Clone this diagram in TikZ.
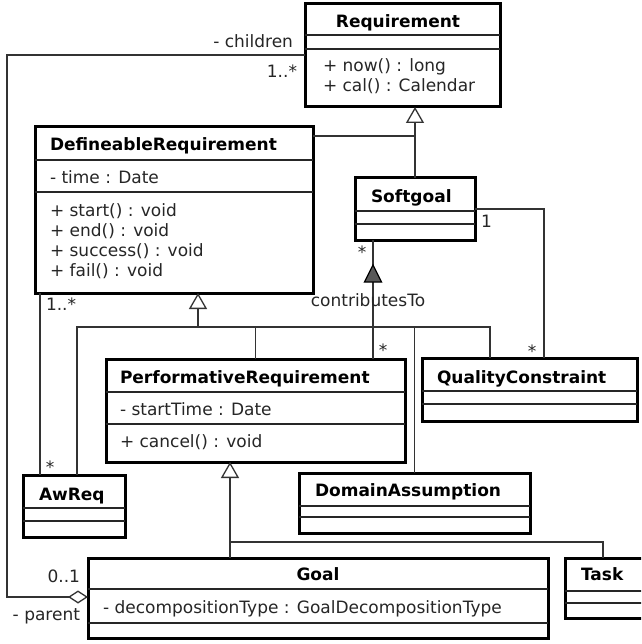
\documentclass[tikz,border=0pt]{standalone}
\usepackage{fontspec}
\setmainfont{DejaVu Sans}
\usetikzlibrary{arrows.meta,calc}
\tikzset{
  cls/.style={draw=black, line width=3pt, fill=white, inner sep=0pt, outer sep=0pt, anchor=north west},
  sepline/.style={draw=black!85, line width=1.3pt},
  txt/.style={inner sep=0pt, outer sep=0pt, anchor=base west, font=\fontsize{17}{20}\selectfont, text=black!85},
  ttl/.style={txt, text=black, font=\fontsize{17}{20}\selectfont\bfseries},
  conn/.style={draw=black!80, line width=1.3pt},
  gen/.style={conn, -{Triangle[open, length=16pt, width=18pt, line width=1.3pt]}},
  agg/.style={conn, -{Diamond[open, length=20pt, width=13pt, line width=1.3pt]}},
}
\begin{document}
\begin{tikzpicture}[x=1pt, y=-1pt]
\fill[white] (0,0) rectangle (641,644);
\clip (0,0) rectangle (641,644);

% ---------- classes ----------
% Requirement
\node[cls, minimum width=195pt, minimum height=103pt] (req) at (305,4) {};
\draw[sepline] (305,35) -- (500,35) (305,49) -- (500,49);
\node[ttl, anchor=base] (reqn) at (398,28) {Requirement};
\node[txt] (reqm1) at (323,72) {+ now() : long};
\node[txt] (reqm2) at (323,92) {+ cal() : Calendar};

% DefineableRequirement
\node[cls, minimum width=278pt, minimum height=166pt] (defreq) at (35,127) {};
\draw[sepline] (35,160) -- (313,160) (35,192) -- (313,192);
\node[ttl] (defn) at (50,151) {DefineableRequirement};
\node[txt] (defa) at (50,184) {- time : Date};
\node[txt] (defm1) at (50,216) {+ start() : void};
\node[txt] (defm2) at (50,236) {+ end() : void};
\node[txt] (defm3) at (50,256) {+ success() : void};
\node[txt] (defm4) at (50,276) {+ fail() : void};

% Softgoal
\node[cls, minimum width=120pt, minimum height=62pt] (soft) at (355,178) {};
\draw[sepline] (355,211) -- (475,211) (355,224) -- (475,224);
\node[ttl] (softn) at (371,203) {Softgoal};

% PerformativeRequirement
\node[cls, minimum width=299pt, minimum height=103pt] (perf) at (106,359) {};
\draw[sepline] (106,392) -- (405,392) (106,424) -- (405,424);
\node[ttl] (perfn) at (120,383) {PerformativeRequirement};
\node[txt] (perfa) at (120,415) {- startTime : Date};
\node[txt] (perfm) at (120,447) {+ cancel() : void};

% QualityConstraint
\node[cls, minimum width=215pt, minimum height=63pt] (qc) at (422,358) {};
\draw[sepline] (422,391) -- (637,391) (422,404) -- (637,404);
\node[ttl] (qcn) at (437,383) {QualityConstraint};

% AwReq
\node[cls, minimum width=102pt, minimum height=62pt] (aw) at (23,475) {};
\draw[sepline] (23,508) -- (125,508) (23,521) -- (125,521);
\node[ttl] (awn) at (39,500) {AwReq};

% DomainAssumption
\node[cls, minimum width=231pt, minimum height=60pt] (dom) at (299,473) {};
\draw[sepline] (299,506) -- (530,506) (299,517) -- (530,517);
\node[ttl] (domn) at (315,496) {DomainAssumption};

% Goal
\node[cls, minimum width=460pt, minimum height=80pt] (goal) at (88,558) {};
\draw[sepline] (88,589) -- (548,589) (88,623) -- (548,623);
\node[ttl, anchor=base] (goaln) at (318,580) {Goal};
\node[txt] (goala) at (103,613) {- decompositionType : GoalDecompositionType};

% Task
\node[cls, minimum width=110pt, minimum height=60pt] (task) at (565,558) {};
\draw[sepline] (565,591) -- (675,591) (565,603) -- (675,603);
\node[ttl] (taskn) at (581,580) {Task};

% ---------- connectors ----------
% children / parent aggregation
\coordinate (cbend) at (7,597);
\draw[agg] (req.west |- 0,55) -| (cbend) -- (goal.west |- cbend);
\node[txt, anchor=base east] (lchild) at (293,48) {- children};
\node[txt, anchor=base east] (lchm) at (297,78) {1..*};
\node[txt, anchor=base east] (lparm) at (80,582) {0..1};
\node[txt, anchor=base east] (lpar) at (80,620) {- parent};

% generalisation to Requirement
\draw[gen] (soft.north) -- (soft.north |- req.south);
\draw[conn] (defreq.east |- 0,136) -- (soft.north |- 0,136);

% Softgoal -- QualityConstraint
\draw[conn] (soft.east |- 0,209) -| (544,0 |- qc.north);
\node[txt] (lsq1) at (481,227) {1};
\node[txt, anchor=base] (lsq2) at (532,357) {*};

% contributesTo
\draw[conn] (perf.north -| 373,0) -- (soft.south -| 373,0);
\filldraw[fill=black!65, draw=black, line width=1.3pt] (373,265) -- (364.5,282) -- (381.5,282) -- cycle;
\node[txt, anchor=base] (lcs) at (362,258) {*};
\node[txt, anchor=base] (lcp) at (383,356) {*};
\node[txt, anchor=base] (lct) at (368,306) {contributesTo};

% generalisation to DefineableRequirement
\coordinate (g1) at (198,327);
\draw[gen] (g1) -- (defreq.south -| g1);
\draw[conn] (aw.north -| 77,0) |- (490,0 |- g1) -- (qc.north -| 490,0);
\draw[conn] (perf.north) -- (perf.north |- g1);
\draw[conn] (dom.north) -- (dom.north |- g1);

% AwReq -- DefineableRequirement
\draw[conn] (defreq.south -| 40,0) -- (aw.north -| 40,0);
\node[txt] (lda) at (46,310) {1..*};
\node[txt, anchor=base] (lad) at (50,473) {*};

% generalisation to PerformativeRequirement
\coordinate (g2) at (230,542);
\draw[gen] (goal.north -| g2) -- (perf.south -| g2);
\draw[conn] (g2) -| (603,0 |- task.north);
\end{tikzpicture}
\end{document}
